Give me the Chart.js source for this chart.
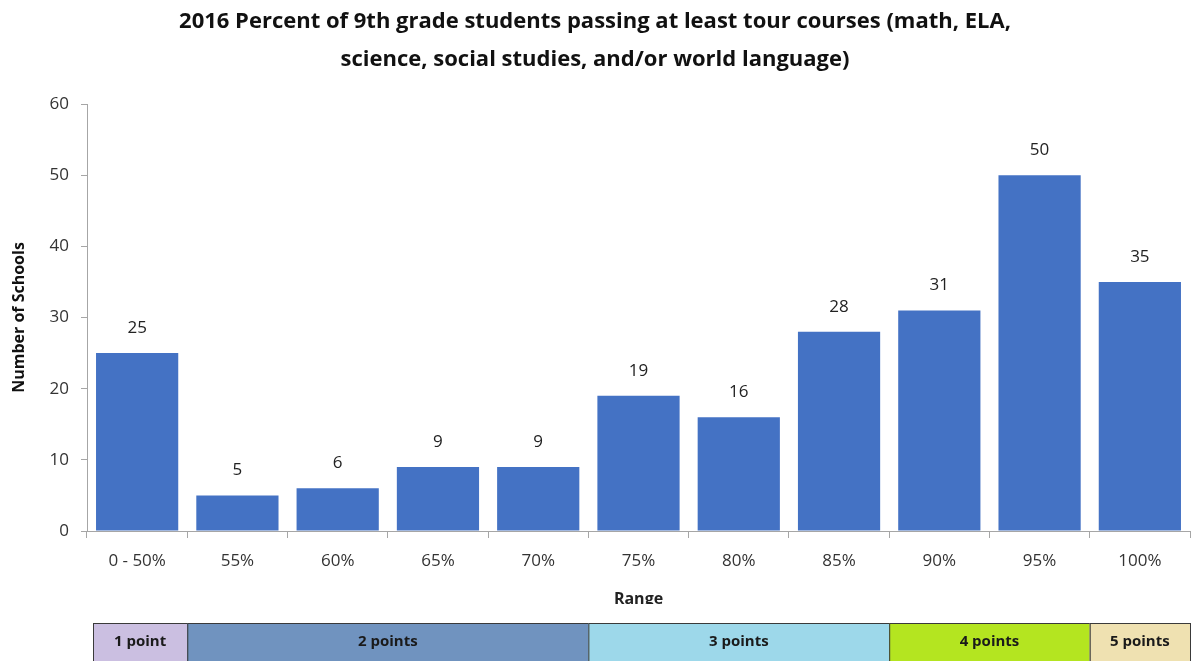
<!DOCTYPE html>
<html>
<head>
<meta charset="utf-8">
<script src="https://cdn.jsdelivr.net/npm/chart.js@4"></script>
<style>
  body { margin: 0; background: #fff; }
  #wrap { width: 1194px; height: 661px; }
</style>
</head>
<body>
<div id="wrap"><canvas id="barChart" width="1194" height="661"></canvas></div>
<script>
// chart data
const ranges = ['0 - 50%', '55%', '60%', '65%', '70%', '75%', '80%', '85%', '90%', '95%', '100%'];
const schoolCounts = [25, 5, 6, 9, 9, 19, 16, 28, 31, 50, 35];
const yTicks = [0, 10, 20, 30, 40, 50, 60];

// points band under the axis
const bandLabels = ['1 point', '2 points', '3 points', '4 points', '5 points'];
const bandSpans = [1, 4, 3, 2, 1];
const bandColors = ['#cbbfe1', '#7093bf', '#9dd8ea', '#b4e520', '#efe1b1'];

const titleLines = [
  '2016 Percent of 9th grade students passing at least tour courses (math, ELA,',
  'science, social studies, and/or world language)'
];

const fontFamily = '"Open Sans", "Liberation Sans", sans-serif';

// draws value labels above each bar
const valueLabels = {
  id: 'valueLabels',
  afterDatasetsDraw(chart) {
    const ctx = chart.ctx;
    const meta = chart.getDatasetMeta(0);
    ctx.save();
    ctx.font = '17px ' + fontFamily;
    ctx.fillStyle = '#222';
    ctx.textAlign = 'center';
    ctx.textBaseline = 'middle';
    meta.data.forEach((bar, i) => {
      ctx.fillText(schoolCounts[i], bar.x, bar.y - 25);
    });
    ctx.restore();
  }
};

// draws the colored points band using the x scale
const pointsBand = {
  id: 'pointsBand',
  afterDraw(chart) {
    const ctx = chart.ctx;
    const x = chart.scales.x;
    const half = (x.getPixelForValue(1) - x.getPixelForValue(0)) / 2;
    const top = 623;
    const bottom = chart.height + 2;
    ctx.save();
    // the axis title is cut off in the original
    ctx.fillStyle = '#fff';
    ctx.fillRect(0, 604, chart.width, top - 604);
    let start = 0;
    bandLabels.forEach((label, i) => {
      const end = start + bandSpans[i];
      let left = x.getPixelForValue(start) - half;
      const right = x.getPixelForValue(end - 1) + half;
      if (i === 0) left += 6;
      ctx.fillStyle = bandColors[i];
      ctx.fillRect(left, top, right - left, bottom - top);
      ctx.strokeStyle = '#3a3a3a';
      ctx.lineWidth = 1;
      ctx.strokeRect(left + 0.5, top + 0.5, right - left, bottom - top);
      ctx.fillStyle = '#1a1a1a';
      ctx.font = 'bold 15px ' + fontFamily;
      ctx.textAlign = 'center';
      ctx.textBaseline = 'middle';
      ctx.fillText(label, (left + right) / 2, top + 19);
      start = end;
    });
    ctx.restore();
  }
};

const config = {
  type: 'bar',
  data: {
    labels: ranges,
    datasets: [{
      label: 'Number of Schools',
      data: schoolCounts,
      backgroundColor: '#4472c4',
      borderWidth: 0,
      categoryPercentage: 1,
      barPercentage: 0.82
    }]
  },
  options: {
    responsive: false,
    animation: false,
    layout: { padding: { top: 0, right: 4, left: 0, bottom: 0 } },
    plugins: {
      legend: { display: false },
      tooltip: { enabled: false },
      title: {
        display: true,
        text: titleLines,
        color: '#111',
        font: { family: fontFamily, size: 22, weight: 'bold', lineHeight: 1.75 },
        padding: { top: 2, bottom: 25 }
      }
    },
    scales: {
      x: {
        grid: {
          offset: true,
          drawOnChartArea: false,
          drawTicks: true,
          tickLength: 7,
          color: '#a6a6a6'
        },
        border: { color: '#a6a6a6', width: 1 },
        ticks: {
          color: '#333',
          font: { family: fontFamily, size: 17 },
          padding: 13,
          autoSkip: false,
          maxRotation: 0
        },
        title: {
          display: true,
          text: 'Range',
          color: '#222',
          font: { family: fontFamily, size: 16, weight: 'bold' },
          padding: { top: 8, bottom: 52 }
        },
        afterFit(scale) { scale.height = 130; }
      },
      y: {
        min: 0,
        max: 60,
        afterBuildTicks(scale) { scale.ticks = yTicks.map(v => ({ value: v })); },
        grid: {
          drawOnChartArea: false,
          drawTicks: true,
          tickLength: 6,
          color: '#a6a6a6'
        },
        border: { color: '#a6a6a6', width: 1 },
        ticks: {
          color: '#333',
          font: { family: fontFamily, size: 17 },
          padding: 12
        },
        title: {
          display: true,
          text: 'Number of Schools',
          color: '#111',
          font: { family: fontFamily, size: 16, weight: 'bold' },
          padding: { top: 10, bottom: 4 }
        },
        afterFit(scale) { scale.width = 87; }
      }
    }
  },
  plugins: [valueLabels, pointsBand]
};

const ctx = document.getElementById('barChart').getContext('2d');
const barChart = new Chart(ctx, config);
</script>
</body>
</html>
